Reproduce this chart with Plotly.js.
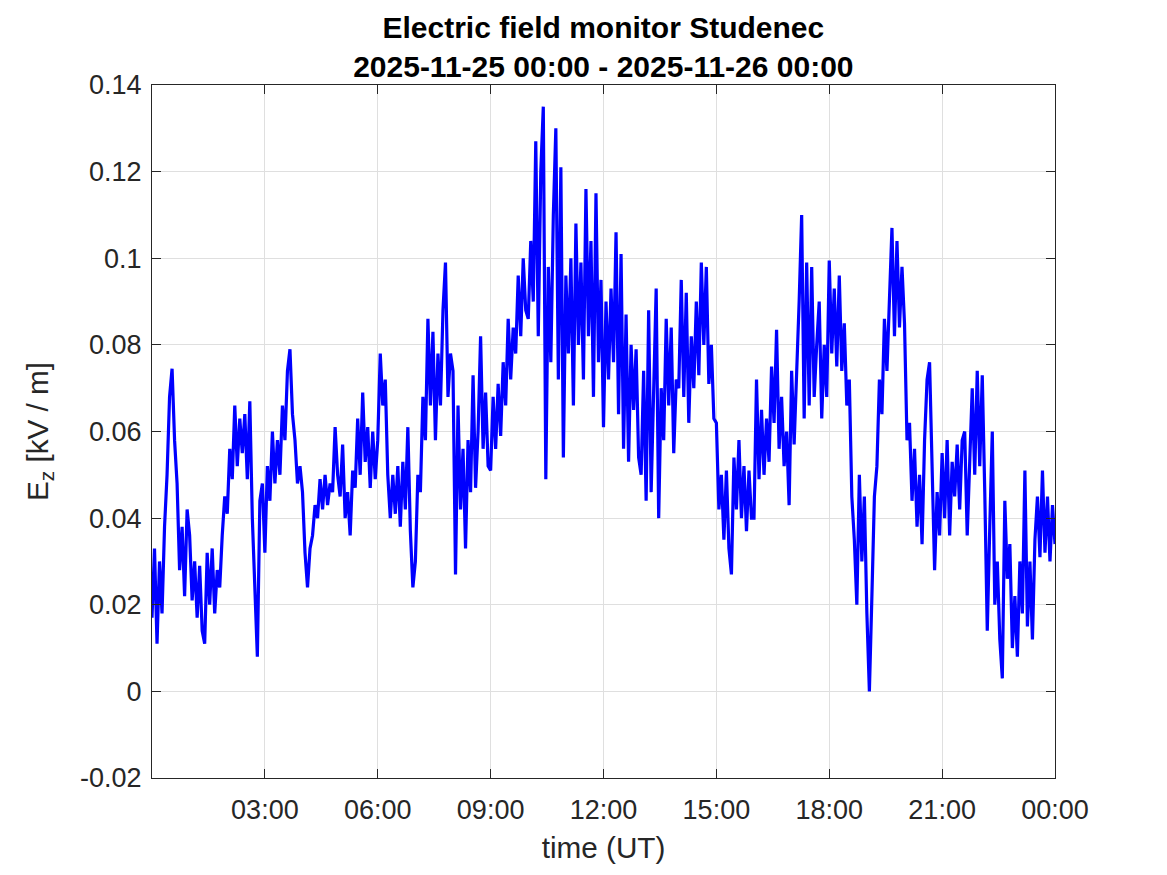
<!DOCTYPE html>
<html>
<head>
<meta charset="utf-8">
<script src="https://cdn.plot.ly/plotly-3.0.1.min.js"></script>
<style>
  html, body { margin: 0; padding: 0; background: #ffffff; }
  #chart { width: 1167px; height: 875px; }
</style>
</head>
<body>
<div id="chart"></div>
<script>
// Sampling: one value every 4 minutes starting 2025-11-25 00:00 (UT)
const startDay = '2025-11-25';
const sampleMinutes = 4;

// Ez [kV/m], one row per hour (15 samples each)
const ez = [
  0.017, 0.033, 0.011, 0.030, 0.018, 0.038, 0.050, 0.068, 0.0745, 0.058, 0.048, 0.028, 0.038, 0.022, 0.042,
  0.036, 0.021, 0.030, 0.017, 0.029, 0.014, 0.011, 0.032, 0.020, 0.033, 0.018, 0.028, 0.024, 0.036, 0.045,
  0.041, 0.056, 0.049, 0.066, 0.052, 0.063, 0.055, 0.064, 0.049, 0.067, 0.040, 0.022, 0.008, 0.044, 0.048,
  0.032, 0.052, 0.044, 0.060, 0.048, 0.058, 0.050, 0.066, 0.058, 0.074, 0.079, 0.064, 0.058, 0.048, 0.052,
  0.046, 0.032, 0.024, 0.033, 0.036, 0.043, 0.040, 0.049, 0.042, 0.050, 0.043, 0.048, 0.046, 0.061, 0.050,
  0.045, 0.057, 0.040, 0.046, 0.036, 0.051, 0.047, 0.063, 0.050, 0.069, 0.053, 0.061, 0.047, 0.060, 0.049,
  0.058, 0.078, 0.066, 0.072, 0.050, 0.040, 0.050, 0.041, 0.052, 0.038, 0.053, 0.042, 0.061, 0.037, 0.024,
  0.030, 0.050, 0.046, 0.068, 0.058, 0.086, 0.066, 0.083, 0.058, 0.078, 0.066, 0.088, 0.099, 0.068, 0.078,
  0.074, 0.027, 0.066, 0.042, 0.056, 0.033, 0.058, 0.046, 0.073, 0.047, 0.060, 0.082, 0.056, 0.069, 0.052,
  0.051, 0.068, 0.056, 0.071, 0.059, 0.076, 0.066, 0.086, 0.072, 0.084, 0.078, 0.096, 0.082, 0.100, 0.088,
  0.086, 0.104, 0.090, 0.127, 0.082, 0.120, 0.135, 0.049, 0.098, 0.076, 0.110, 0.130, 0.072, 0.121, 0.054,
  0.096, 0.078, 0.100, 0.066, 0.108, 0.080, 0.099, 0.072, 0.116, 0.082, 0.104, 0.068, 0.115, 0.076, 0.095,
  0.061, 0.090, 0.072, 0.093, 0.076, 0.106, 0.064, 0.101, 0.056, 0.087, 0.053, 0.080, 0.065, 0.079, 0.054,
  0.050, 0.074, 0.044, 0.088, 0.046, 0.068, 0.093, 0.040, 0.070, 0.058, 0.086, 0.066, 0.084, 0.055, 0.072,
  0.070, 0.095, 0.068, 0.092, 0.062, 0.082, 0.070, 0.090, 0.073, 0.099, 0.080, 0.098, 0.071, 0.080, 0.063,
  0.062, 0.042, 0.050, 0.035, 0.051, 0.033, 0.027, 0.054, 0.042, 0.058, 0.040, 0.052, 0.037, 0.051, 0.040,
  0.040, 0.072, 0.049, 0.065, 0.050, 0.063, 0.053, 0.075, 0.062, 0.0835, 0.056, 0.068, 0.052, 0.060, 0.043,
  0.074, 0.057, 0.072, 0.090, 0.110, 0.063, 0.099, 0.066, 0.098, 0.068, 0.080, 0.090, 0.063, 0.080, 0.068,
  0.0995, 0.078, 0.093, 0.075, 0.096, 0.074, 0.085, 0.066, 0.072, 0.045, 0.035, 0.020, 0.050, 0.030, 0.045,
  0.018, 0.000, 0.022, 0.045, 0.052, 0.072, 0.064, 0.086, 0.074, 0.090, 0.107, 0.082, 0.104, 0.084, 0.098,
  0.085, 0.058, 0.062, 0.044, 0.056, 0.038, 0.050, 0.034, 0.058, 0.072, 0.076, 0.052, 0.028, 0.046, 0.036,
  0.055, 0.040, 0.058, 0.036, 0.053, 0.045, 0.057, 0.042, 0.058, 0.060, 0.036, 0.054, 0.070, 0.050, 0.074,
  0.052, 0.073, 0.046, 0.014, 0.038, 0.060, 0.020, 0.030, 0.012, 0.003, 0.044, 0.026, 0.034, 0.010, 0.022,
  0.008, 0.030, 0.018, 0.051, 0.015, 0.030, 0.012, 0.035, 0.045, 0.031, 0.051, 0.032, 0.045, 0.030, 0.043,
  0.034
];

const xTickVals = ['2025-11-25 03:00', '2025-11-25 06:00', '2025-11-25 09:00', '2025-11-25 12:00',
                   '2025-11-25 15:00', '2025-11-25 18:00', '2025-11-25 21:00', '2025-11-26 00:00'];
const xTickText = ['03:00', '06:00', '09:00', '12:00', '15:00', '18:00', '21:00', '00:00'];
const yTickVals = [-0.02, 0, 0.02, 0.04, 0.06, 0.08, 0.1, 0.12, 0.14];
const yTickText = ['-0.02', '0', '0.02', '0.04', '0.06', '0.08', '0.1', '0.12', '0.14'];

function pad(n) { return (n < 10 ? '0' : '') + n; }
const times = ez.map(function (_, i) {
  const m = i * sampleMinutes;
  const d = Math.floor(m / 1440);
  const hh = Math.floor((m % 1440) / 60);
  const mm = m % 60;
  return '2025-11-' + pad(25 + d) + ' ' + pad(hh) + ':' + pad(mm);
});

const axisColor = '#262626';
const gridColor = '#dfdfdf';
const fontFam = 'Liberation Sans, Arial, Helvetica, sans-serif';

const trace = {
  type: 'scatter',
  mode: 'lines',
  x: times,
  y: ez,
  line: { color: '#0000ff', width: 3.2 },
  hoverinfo: 'x+y'
};

const layout = {
  width: 1167,
  height: 875,
  paper_bgcolor: '#ffffff',
  plot_bgcolor: '#ffffff',
  margin: { l: 152, r: 112, t: 85, b: 97 },
  showlegend: false,
  font: { family: fontFam, color: axisColor, size: 27 },
  title: {
    text: '<b>Electric field monitor Studenec<br>2025-11-25 00:00 - 2025-11-26 00:00</b>',
    font: { family: fontFam, size: 30, color: '#000000' },
    x: 0.517, xanchor: 'center',
    y: 0.957, yanchor: 'top', yref: 'container'
  },
  xaxis: {
    type: 'date',
    range: ['2025-11-25 00:00', '2025-11-26 00:00'],
    tickmode: 'array',
    tickvals: xTickVals,
    ticktext: xTickText,
    ticks: 'inside', ticklen: 9, tickwidth: 1, tickcolor: axisColor,
    showline: true, linecolor: axisColor, linewidth: 1, mirror: 'ticks',
    showgrid: true, gridcolor: gridColor, gridwidth: 1,
    zeroline: false,
    tickfont: { family: fontFam, size: 27, color: axisColor },
    ticklabelstandoff: 8,
    title: { text: 'time (UT)', font: { family: fontFam, size: 29.7, color: axisColor }, standoff: 12 }
  },
  yaxis: {
    range: [-0.02, 0.14],
    tickmode: 'array',
    tickvals: yTickVals,
    ticktext: yTickText,
    ticks: 'inside', ticklen: 9, tickwidth: 1, tickcolor: axisColor,
    showline: true, linecolor: axisColor, linewidth: 1, mirror: 'ticks',
    showgrid: true, gridcolor: gridColor, gridwidth: 1,
    zeroline: false,
    tickfont: { family: fontFam, size: 27, color: axisColor },
    ticklabelstandoff: 4,
    title: { text: 'E<sub>z</sub> [kV / m]', font: { family: fontFam, size: 29.7, color: axisColor }, standoff: 22 }
  }
};

Plotly.newPlot('chart', [trace], layout, { staticPlot: true, displayModeBar: false });
</script>
</body>
</html>
